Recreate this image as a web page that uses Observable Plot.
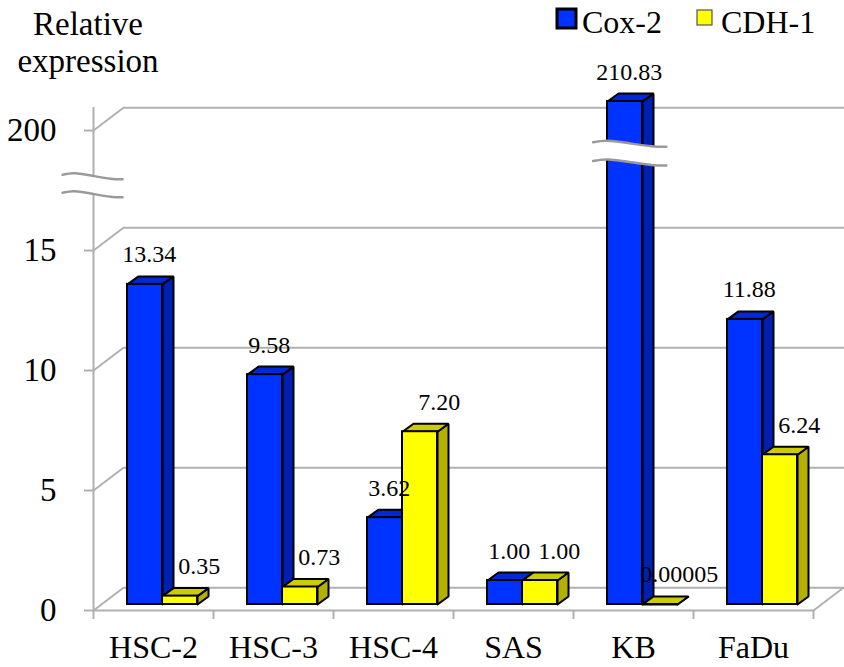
<!DOCTYPE html>
<html><head><meta charset="utf-8">
<script src="https://cdn.jsdelivr.net/npm/d3@7"></script>
<script src="https://cdn.jsdelivr.net/npm/@observablehq/plot@0.6"></script>
<style>
body{margin:0;background:#fff}
#chart{width:844px;height:667px}
</style>
</head><body><div id="chart"></div>
<script>
// ---- data ----
const categories = ["HSC-2", "HSC-3", "HSC-4", "SAS", "KB", "FaDu"];
const seriesNames = ["Cox-2", "CDH-1"];
const cox2 = [13.34, 9.58, 3.62, 1.00, 210.83, 11.88];
const cdh1 = [0.35, 0.73, 7.20, 1.00, 0.00005, 6.24];
const cox2Labels = ["13.34", "9.58", "3.62", "1.00", "210.83", "11.88"];
const cdh1Labels = ["0.35", "0.73", "7.20", "1.00", "0.00005", "6.24"];
const yTickValues = [0, 5, 10, 15, 200];

(function () {
const font = '"Liberation Serif", "Times New Roman", serif';

// ---- broken value axis: 0..15 linear, then jump to 200 ----
const LOW_MAX = 100, UPPER_BASE = 200, UPPER_DISPLAY = 20, Y_MAX = 20.96;
const UPPER_K = (Y_MAX - UPPER_DISPLAY) / (d3.max(cox2) - UPPER_BASE);
const f = v => v <= LOW_MAX ? v : UPPER_DISPLAY + (v - UPPER_BASE) * UPPER_K;

// ---- pseudo-3D geometry (in data units) ----
const BAR_LEFT = [-0.2167, 0.075], BAR_W = 0.2917;
const DEPTH_X = 0.0917, DEPTH_Y = 0.333, BASE = 0.25;
const BACK_X = 0.25, BACK_Y = 0.95;
const X0 = -0.5, X1 = categories.length - 0.5;
const FRONT = ["#0033ff", "#ffff00"], SIDE = ["#0020b4", "#b4b000"], TOPC = ["#0029d6", "#cccc00"];
const LABEL_SHIFT = [0.035, 0.16];
const GRID = "#b0b0b0";

const values = [cox2, cdh1], labels = [cox2Labels, cdh1Labels];
const bars = [];
values.forEach((arr, s) => arr.forEach((v, i) => {
  const x1 = i + BAR_LEFT[s], x2 = x1 + BAR_W;
  bars.push({s, i, id: s + "-" + i, cat: categories[i], v, label: labels[s][i],
             x1, x2, y0: BASE, yt: BASE + f(v)});
}));
const sidePts = [], topPts = [];
for (const b of bars) {
  [[b.x2, b.y0], [b.x2, b.yt], [b.x2 + DEPTH_X, b.yt + DEPTH_Y], [b.x2 + DEPTH_X, b.y0 + DEPTH_Y], [b.x2, b.y0]]
    .forEach(([x, y]) => sidePts.push({id: b.id, s: b.s, x, y}));
  [[b.x1, b.yt], [b.x2, b.yt], [b.x2 + DEPTH_X, b.yt + DEPTH_Y], [b.x1 + DEPTH_X, b.yt + DEPTH_Y], [b.x1, b.yt]]
    .forEach(([x, y]) => topPts.push({id: b.id, s: b.s, x, y}));
}

// wall grid lines and floor
const grid = [];
yTickValues.map(f).forEach((t, k) => {
  [[X0, t], [X0 + BACK_X, t + BACK_Y], [X1 + BACK_X, t + BACK_Y]].forEach(([x, y]) => grid.push({id: "g" + k, x, y}));
});
[[X0, 0], [X1, 0], [X1 + BACK_X, BACK_Y]].forEach(([x, y]) => grid.push({id: "floor", x, y}));

// break marks (wavy lines)
const waveT = [0, 0.2, 0.5, 0.8, 1], waveOff = [0, -1.5, 1, 4, 4.5].map(p => -p / 24);
function wave(xa, xb, yCenter, gap) {
  return waveT.map((t, j) => ({x: xa + (xb - xa) * t, yUp: yCenter + gap / 2 + waveOff[j], yLo: yCenter - gap / 2 + waveOff[j]}));
}
const axisBreak = wave(-0.758, -0.258, 17.78, 0.75);
const kbIndex = categories.indexOf("KB");
const barBreak = wave(kbIndex + BAR_LEFT[0] - 0.12, kbIndex + BAR_LEFT[0] + 0.49, 19.12, 0.78);

const faceMarks = [];
for (const s of [0, 1]) {
  faceMarks.push(
    Plot.line(sidePts.filter(d => d.s === s), {x: "x", y: "y", z: "id", fill: SIDE[s], stroke: "black", strokeWidth: 2, strokeLinejoin: "miter"}),
    Plot.line(topPts.filter(d => d.s === s), {x: "x", y: "y", z: "id", fill: TOPC[s], stroke: "black", strokeWidth: 2, strokeLinejoin: "miter"}),
    Plot.rect(bars.filter(d => d.s === s), {x1: "x1", x2: "x2", y1: "y0", y2: "yt", fill: FRONT[s], stroke: "black", strokeWidth: 2})
  );
}

const breakMarks = br => [
  Plot.areaY(br, {x: "x", y1: "yLo", y2: "yUp", fill: "white", curve: "natural"}),
  Plot.line(br, {x: "x", y: "yUp", stroke: "#9a9a9a", strokeWidth: 2.5, curve: "natural"}),
  Plot.line(br, {x: "x", y: "yLo", stroke: "#9a9a9a", strokeWidth: 2.5, curve: "natural"})
];

const plot = Plot.plot({
  width: 844, height: 667,
  marginLeft: 93, marginRight: 31, marginTop: 107, marginBottom: 57,
  style: {fontFamily: font, fontSize: "32px", color: "black", background: "white"},
  x: {type: "linear", domain: [X0, X1], axis: null},
  y: {type: "linear", domain: [0, Y_MAX], axis: null},
  marks: [
    Plot.line(grid, {x: "x", y: "y", z: "id", stroke: GRID, strokeWidth: 2}),
    Plot.ruleX([X0], {y1: 0, y2: Y_MAX, stroke: GRID, strokeWidth: 2}),
    Plot.axisY({ticks: yTickValues.map(f), tickFormat: (d, k) => String(yTickValues[k]), tickSize: 9, tickPadding: 28,
                stroke: GRID, strokeWidth: 2, fill: "black", fontSize: 33, fontFamily: font}),
    Plot.axisX({ticks: d3.range(X0, X1 + 0.01, 1), tickFormat: () => "", tickSize: 9, stroke: GRID, strokeWidth: 2}),
    Plot.axisX({ticks: d3.range(categories.length), tickFormat: i => categories[i], tickSize: 0, tickPadding: 25,
                fill: "black", fontSize: 32, fontFamily: font}),
    ...breakMarks(axisBreak),
    ...faceMarks,
    ...breakMarks(barBreak),
    Plot.text(bars, {x: d => (d.x1 + d.x2) / 2 + LABEL_SHIFT[d.s], y: "yt", text: "label", dy: -22, lineAnchor: "bottom",
                     fontSize: 24, fontFamily: font, fill: "black"})
  ]
});
document.getElementById("chart").appendChild(plot);

// title and legend
const svg = d3.select(plot);
const g = svg.append("g").attr("fill", "black").attr("text-anchor", "start").attr("font-family", font);
g.append("text").attr("x", 88).attr("y", 35).attr("text-anchor", "middle").attr("font-size", 33).text("Relative");
g.append("text").attr("x", 88).attr("y", 72).attr("text-anchor", "middle").attr("font-size", 33).text("expression");
const legendItems = [
  {name: seriesNames[0], fill: FRONT[0], x: 557, y: 9, size: 19, stroke: "black", sw: 3, tx: 582},
  {name: seriesNames[1], fill: FRONT[1], x: 697, y: 10, size: 15, stroke: "#555", sw: 1.2, tx: 721}
];
for (const it of legendItems) {
  g.append("rect").attr("x", it.x).attr("y", it.y).attr("width", it.size).attr("height", it.size)
    .attr("fill", it.fill).attr("stroke", it.stroke).attr("stroke-width", it.sw);
  g.append("text").attr("x", it.tx).attr("y", 33).attr("text-anchor", "start").attr("font-size", 32).text(it.name);
}
})();
</script>
</body></html>
